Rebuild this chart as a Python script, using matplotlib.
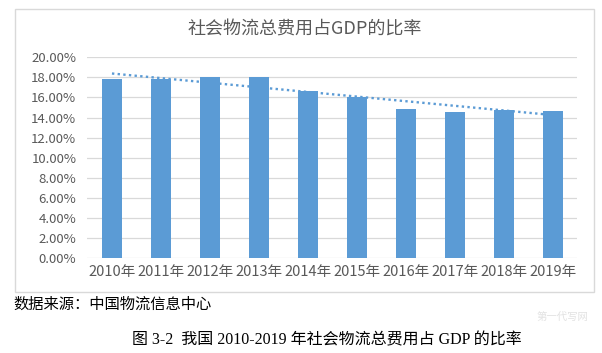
import matplotlib.pyplot as plt
import numpy as np
from matplotlib.patches import Rectangle
from matplotlib.ticker import FuncFormatter

plt.rcParams['font.family'] = ['Noto Sans CJK SC', 'DejaVu Sans']

# 数据
years = ['2010年', '2011年', '2012年', '2013年', '2014年',
         '2015年', '2016年', '2017年', '2018年', '2019年']
ratio = [17.8, 17.8, 18.0, 18.0, 16.6, 16.0, 14.9, 14.6, 14.8, 14.7]  # 单位 %
y_ticks = [0, 2, 4, 6, 8, 10, 12, 14, 16, 18, 20]

title = '社会物流总费用占GDP的比率'
source = '数据来源：中国物流信息中心'
caption = '图 3-2  我国 2010-2019 年社会物流总费用占 GDP 的比率'

bar_color = '#5B9BD5'
text_gray = '#595959'
grid_gray = '#D9D9D9'

fig = plt.figure(figsize=(6.02, 3.53), dpi=100)

# 图表外框
frame = Rectangle((0.0254, 0.172), 0.9618, 0.8017, transform=fig.transFigure,
                  fill=False, edgecolor=grid_gray, linewidth=1.0)
fig.patches.append(frame)

ax = fig.add_axes([0.1453, 0.2683, 0.8136, 0.5694])
x = np.arange(len(years))
ax.bar(x, ratio, width=0.41, color=bar_color, zorder=3)

# 线性趋势线（由数据拟合）
k, b = np.polyfit(x, ratio, 1)
ax.plot(x, k * x + b, linestyle=(0, (1, 1.4)), color=bar_color, linewidth=1.7, zorder=4)

ax.set_xlim(-0.5, len(years) - 0.5)
ax.set_ylim(0, 20)
ax.set_yticks(y_ticks)
ax.yaxis.set_major_formatter(FuncFormatter(lambda v, p: f'{v:.2f}%'))
ax.set_xticks(x)
ax.set_xticklabels(years)
ax.tick_params(axis='both', length=0, colors=text_gray)
ax.tick_params(axis='y', pad=8, labelsize=9.5)
ax.tick_params(axis='x', pad=5, labelsize=10.5)
ax.grid(axis='y', color=grid_gray, linewidth=0.9, zorder=0)
for s in ax.spines.values():
    s.set_visible(False)

fig.text(0.5066, 0.917, title, ha='center', va='center', fontsize=13, color=text_gray)
fig.text(0.0216, 0.1388, source, ha='left', va='center', fontsize=11, color='black')
fig.text(0.543, 0.0368, caption, ha='center', va='center', fontsize=11.5, color='black',
         family=['Liberation Serif', 'Noto Sans CJK SC'])
fig.text(0.935, 0.102, '第一代写网', ha='center', va='center', fontsize=7.5, color='#E2E2E2')

fig.savefig('out.png', dpi=100)
